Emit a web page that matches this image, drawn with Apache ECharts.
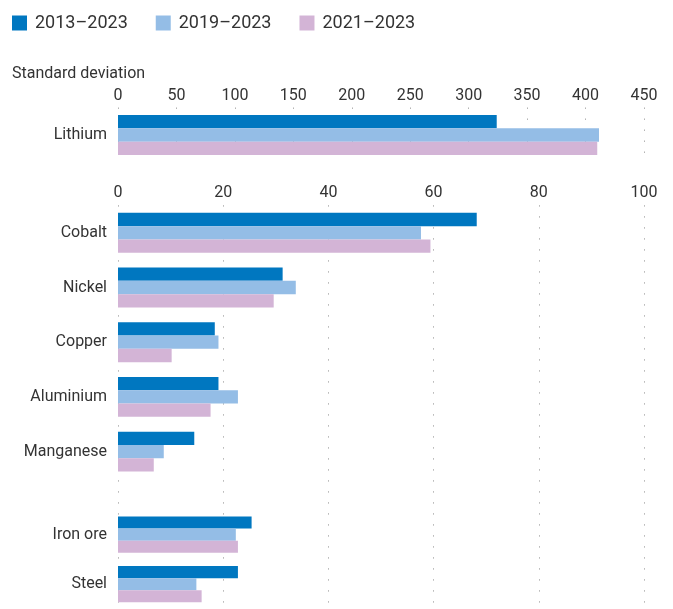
<!DOCTYPE html>
<html><head><meta charset="utf-8">
<script src="https://cdn.jsdelivr.net/npm/echarts@6/dist/echarts.min.js"></script>
<style>html,body{margin:0;padding:0;background:#fff}#c{width:673px;height:609px}</style>
</head><body><div id="c"></div>
<script>
const seriesNames = ['2013–2023', '2019–2023', '2021–2023'];
const colors = ['#0077c0', '#94bde6', '#d3b4d6'];

const topCategories = ['Lithium'];
const midCategories = ['Cobalt', 'Nickel', 'Copper', 'Aluminium', 'Manganese'];
const lowCategories = ['Iron ore', 'Steel'];

const top2013 = [324];
const top2019 = [411.5];
const top2021 = [410];

const mid2013 = [68.2, 31.3, 18.4, 19.1, 14.5];
const mid2019 = [57.6, 33.8, 19.1, 22.8, 8.7];
const mid2021 = [59.4, 29.6, 10.2, 17.6, 6.8];

const low2013 = [25.4, 22.8];
const low2019 = [22.4, 14.9];
const low2021 = [22.8, 15.9];

const topTicks = { min: 0, max: 450, interval: 50 };
const lowTicks = { min: 0, max: 100, interval: 20 };

const FONT = 'Roboto';
const band = 54.7;
const lowBand = 55;
const splitStyle = { show: true, lineStyle: { color: '#8a8a8a', width: 1, type: [1, 10] } };

const chart = echarts.init(document.getElementById('c'), null, { renderer: 'canvas' });

function xAxisDef(grid, ticks, showLabels, showSplit) {
  return {
    type: 'value', gridIndex: grid, position: 'top',
    min: ticks.min, max: ticks.max, interval: ticks.interval,
    axisLine: { show: false }, axisTick: { show: false },
    axisLabel: { show: showLabels, color: '#333', fontSize: 16, fontFamily: FONT, margin: 4 },
    splitLine: showSplit ? splitStyle : { show: false }
  };
}
function yAxisDef(grid, cats) {
  return {
    type: 'category', gridIndex: grid, data: cats, inverse: true,
    axisLine: { show: false }, axisTick: { show: false },
    axisLabel: { color: '#333', fontSize: 16, fontFamily: FONT, margin: 11 }
  };
}

const periodData = [
  [top2013, mid2013, low2013],
  [top2019, mid2019, low2019],
  [top2021, mid2021, low2021]
];
const series = [];
periodData.forEach((sets, i) => {
  [[0, 0], [2, 2], [3, 3]].forEach((ax, j) => {
    series.push({
      name: seriesNames[i], type: 'bar',
      xAxisIndex: ax[0], yAxisIndex: ax[1],
      data: sets[j], itemStyle: { color: colors[i] },
      barGap: '0%', barCategoryGap: '27%', z: 3
    });
  });
});

chart.setOption({
  animation: false,
  textStyle: { fontFamily: FONT },
  title: {
    text: 'Standard deviation', left: 7, top: 61,
    textStyle: { fontSize: 16, fontWeight: 'normal', color: '#333', fontFamily: FONT }
  },
  legend: {
    data: seriesNames, left: 7, top: 9, itemWidth: 15, itemHeight: 15, itemGap: 28,
    icon: 'rect',
    textStyle: { fontSize: 18, color: '#333', fontFamily: FONT, padding: [0, 0, 0, 3] }
  },
  grid: [
    { left: 118, right: 29, top: 135 - band / 2, height: band },
    { left: 118, right: 29, top: 232.8 - band / 2, height: 430 },
    { left: 118, right: 29, top: 232.8 - band / 2, height: band * 5 },
    { left: 118, right: 29, top: 537.3 - lowBand / 2, height: lowBand * 2 }
  ],
  xAxis: [
    xAxisDef(0, topTicks, true, true),
    xAxisDef(1, lowTicks, true, true),
    xAxisDef(2, lowTicks, false, false),
    xAxisDef(3, lowTicks, false, false)
  ],
  yAxis: [
    yAxisDef(0, topCategories),
    { type: 'category', gridIndex: 1, data: [''], show: false },
    yAxisDef(2, midCategories),
    yAxisDef(3, lowCategories)
  ],
  series: series
});
</script></body></html>
